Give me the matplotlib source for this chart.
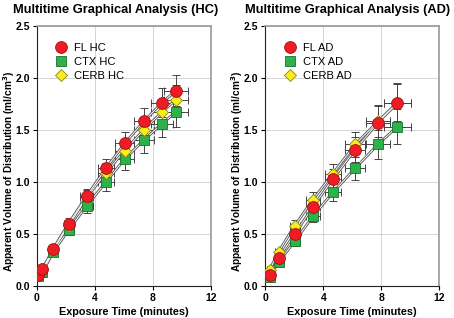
import matplotlib
matplotlib.use("Agg")
import matplotlib.pyplot as plt
import numpy as np

plt.rcParams['font.family'] = ['Liberation Sans', 'DejaVu Sans']
plt.rcParams['font.weight'] = 'bold'

# ---- HC data ----
hc_time = [0.11, 0.39, 1.15, 2.2, 3.45, 4.78, 6.07, 7.38, 8.64, 9.6]
hc_xerr = [0.1, 0.15, 0.25, 0.35, 0.45, 0.55, 0.65, 0.7, 0.75, 0.8]
fl_hc = [0.106, 0.16, 0.36, 0.60, 0.865, 1.13, 1.37, 1.58, 1.76, 1.875]
fl_hc_err = [0.02, 0.02, 0.03, 0.05, 0.07, 0.09, 0.11, 0.13, 0.14, 0.15]
ctx_hc = [0.10, 0.13, 0.33, 0.54, 0.77, 1.00, 1.22, 1.40, 1.56, 1.67]
ctx_hc_err = [0.02, 0.02, 0.03, 0.05, 0.07, 0.09, 0.11, 0.12, 0.13, 0.14]
cerb_hc = [0.11, 0.15, 0.35, 0.58, 0.85, 1.09, 1.30, 1.50, 1.67, 1.79]
cerb_hc_err = [0.02, 0.02, 0.03, 0.05, 0.07, 0.09, 0.11, 0.12, 0.13, 0.14]

# ---- AD data ----
ad_time = [0.3, 0.92, 2.03, 3.29, 4.67, 6.2, 7.77, 9.1]
ad_xerr = [0.15, 0.25, 0.35, 0.45, 0.55, 0.7, 0.85, 0.92]
fl_ad = [0.106, 0.27, 0.50, 0.76, 1.03, 1.31, 1.57, 1.757]
fl_ad_err = [0.02, 0.03, 0.05, 0.07, 0.09, 0.12, 0.17, 0.19]
ctx_ad = [0.09, 0.23, 0.43, 0.67, 0.90, 1.13, 1.36, 1.53]
ctx_ad_err = [0.02, 0.03, 0.05, 0.06, 0.08, 0.11, 0.14, 0.17]
cerb_ad = [0.155, 0.33, 0.58, 0.83, 1.08, 1.36, 1.58, 1.76]
cerb_ad_err = [0.02, 0.03, 0.05, 0.07, 0.09, 0.12, 0.15, 0.18]

x_ticks = [0, 4, 8, 12]
y_ticks = [0.0, 0.5, 1.0, 1.5, 2.0, 2.5]

W, H = 454, 318
fig = plt.figure(figsize=(W / 100, H / 100), dpi=100)
ax1 = fig.add_axes([36.7 / W, 1 - 286 / H, 174 / W, 260.3 / H])
ax2 = fig.add_axes([265.3 / W, 1 - 286 / H, 174 / W, 260.3 / H])

styles = [
    ('o', '#ee1c24', '#a01010', 8.5),
    ('s', '#2db24a', '#1c6e2c', 7.8),
    ('D', '#f7ee1c', '#8a8410', 6.0),
]

def panel(ax, t, xe, series, labels, title, title_x):
    order = [1, 2, 0]
    for i in order:
        y, ye = series[i]
        ax.errorbar(t, y, yerr=ye, xerr=xe, fmt='none', ecolor='#444444',
                    elinewidth=0.7, capsize=3, capthick=0.7, zorder=2)
    for i in order:
        y, ye = series[i]
        ax.plot(t, y, color='#555555', lw=2.0, zorder=3, solid_capstyle='round')
        ax.plot(t, y, color='white', lw=0.7, zorder=3.1)
    for i in order:
        y, ye = series[i]
        m, fc, ec, ms = styles[i]
        ax.plot(t, y, linestyle='none', marker=m, markersize=ms,
                markerfacecolor=fc, markeredgecolor=ec, markeredgewidth=0.6,
                zorder=4 + (1 if i == 0 else 0), label=labels[i])
    ax.set_xlim(0, 12)
    ax.set_ylim(0, 2.5)
    ax.set_xticks(x_ticks)
    ax.set_yticks(y_ticks)
    ax.set_xticklabels([str(v) for v in x_ticks], fontsize=7.5, fontweight='bold')
    ax.set_yticklabels([f"{v:.1f}" for v in y_ticks], fontsize=7.5, fontweight='bold')
    ax.grid(True, color='#cccccc', lw=0.6)
    ax.set_axisbelow(True)
    for s in ['top', 'right']:
        ax.spines[s].set_color('#999999')
        ax.spines[s].set_linewidth(1.2)
    for s in ['left', 'bottom']:
        ax.spines[s].set_color('#222222')
        ax.spines[s].set_linewidth(0.8)
    ax.tick_params(length=3, width=0.8, pad=2)
    fig.text(title_x / W, 1 - 10 / H, title, fontsize=9.3, fontweight='bold',
             ha='center', va='center')
    ax.set_xlabel('Exposure Time (minutes)', fontsize=7.8, fontweight='bold', labelpad=3)
    ax.set_ylabel('Apparent Volume of Distribution (ml/cm$^\\mathbf{3}$)',
                  fontsize=7.3, fontweight='bold')
    ax.yaxis.set_label_coords(-20 / 174, 0.44)
    handles, labs = ax.get_legend_handles_labels()
    idx = [labs.index(l) for l in labels]
    ax.legend([handles[k] for k in idx], [labs[k] for k in idx],
              loc='upper left', bbox_to_anchor=(0.055, 0.96), frameon=False,
              prop={'size': 8, 'weight': 'normal'}, handletextpad=0.4,
              labelspacing=0.35, borderaxespad=0.2, handlelength=1.5)

panel(ax1, hc_time, hc_xerr,
      [(fl_hc, fl_hc_err), (ctx_hc, ctx_hc_err), (cerb_hc, cerb_hc_err)],
      ['FL HC', 'CTX HC', 'CERB HC'], 'Multitime Graphical Analysis (HC)', 115.5)
panel(ax2, ad_time, ad_xerr,
      [(fl_ad, fl_ad_err), (ctx_ad, ctx_ad_err), (cerb_ad, cerb_ad_err)],
      ['FL AD', 'CTX AD', 'CERB AD'], 'Multitime Graphical Analysis (AD)', 347.5)

fig.savefig('out.png', dpi=100)
